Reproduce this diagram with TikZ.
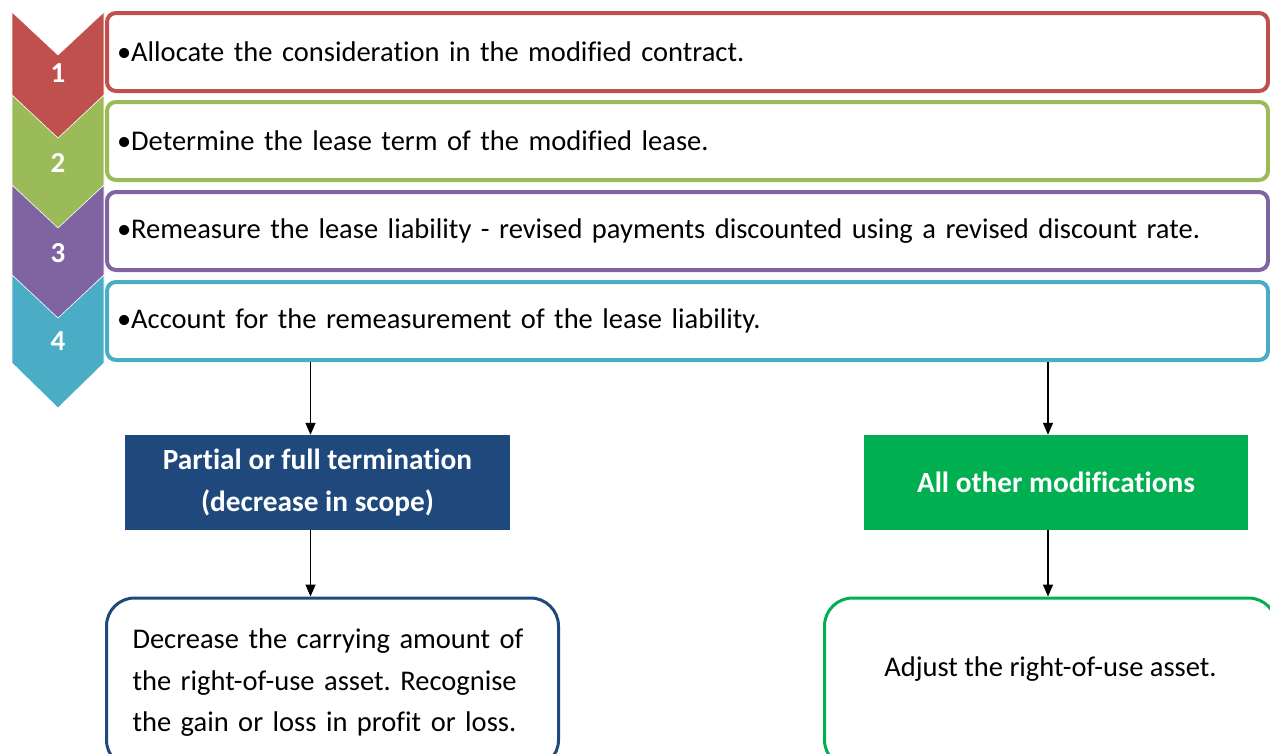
\documentclass[tikz,border=0pt]{standalone}
\usepackage{fontspec}
\setmainfont{Carlito}[Ligatures=NoCommon]
\usetikzlibrary{positioning,arrows.meta}

\definecolor{stepred}{RGB}{192,80,77}
\definecolor{stepgreen}{RGB}{155,187,89}
\definecolor{steppurple}{RGB}{128,100,162}
\definecolor{stepblue}{RGB}{75,172,198}
\definecolor{termblue}{RGB}{31,73,125}
\definecolor{othergreen}{RGB}{0,176,80}

\frenchspacing

\begin{document}
\begin{tikzpicture}[x=1pt, y=-1pt,
  font=\fontsize{28.5}{34}\selectfont,
  bar/.style={draw=#1, line width=4pt, rounded corners=9pt, fill=white,
    minimum width=1161pt, minimum height=78pt, inner xsep=10pt,
    text width=1141pt, align=left},
  head/.style={fill=#1, minimum width=385pt, minimum height=95pt, text=white,
    font=\fontsize{29.3}{42}\selectfont\bfseries, align=center},
  result/.style={draw=#1, line width=3pt, rounded corners=28pt, fill=white,
    minimum width=452pt, minimum height=170pt,
    font=\fontsize{28.5}{41.5}\selectfont},
  arrow/.style={line width=1.4pt, -{Triangle[length=12pt,width=10pt]}}]
  \useasboundingbox (0,0) rectangle (1270,753);

  % Steps
  \node [bar=stepred] (bar1) at (687.5,52) {\textbullet Allocate the consideration in the modified contract.};
  \node [bar=stepgreen] (bar2) at (687.5,141) {\textbullet Determine the lease term of the modified lease.};
  \node [bar=steppurple] (bar3) at (687.5,231) {\textbullet Remeasure the lease liability - revised payments discounted using a revised discount rate.};
  \node [bar=stepblue] (bar4) at (687.5,321) {\textbullet Account for the remeasurement of the lease liability.};

  % Chevrons with the step numbers
  \foreach \i/\top/\bot/\col in {1/12/95/stepred, 2/95/185/stepgreen, 3/185/275/steppurple, 4/275/363/stepblue}{
    \draw [fill=\col, draw=white, line width=0.6pt] (12,\top) -- (58,\top+43) -- (104,\top)
      -- (104,\bot) -- (58,\bot+45) -- (12,\bot) -- cycle;
    \node [text=white, font=\fontsize{29}{34}\selectfont\bfseries] (num\i) at (58,\bot-22) {\i};
  }

  % Two cases
  \node [head=termblue] (term) at (317.5,482.5) {Partial or full termination\\(decrease in scope)};
  \node [head=othergreen, minimum width=384pt] (other) at (1056,482.5) {All other modifications};

  % Outcomes
  \node [result=termblue, text width=400pt, align=left] (decrease) at (332.5,683)
    {Decrease the carrying amount of\\the right-of-use asset. Recognise\\the gain or loss in profit or loss.};
  \node [result=othergreen] (adjust) at (1050.5,683) {};
  \node [yshift=14pt] (adjust text) at (adjust.center) {Adjust the right-of-use asset.};

  % Arrows
  \draw [arrow] ([xshift=-7pt]term.north |- bar4.south) -- ([xshift=-7pt]term.north);
  \draw [arrow] ([xshift=-8pt]other.north |- bar4.south) -- ([xshift=-8pt]other.north);
  \draw [arrow] ([xshift=-7pt]term.south) -- ([xshift=-7pt]term.south |- decrease.north);
  \draw [arrow] ([xshift=-8pt]other.south) -- ([xshift=-8pt]other.south |- adjust.north);
\end{tikzpicture}
\end{document}
